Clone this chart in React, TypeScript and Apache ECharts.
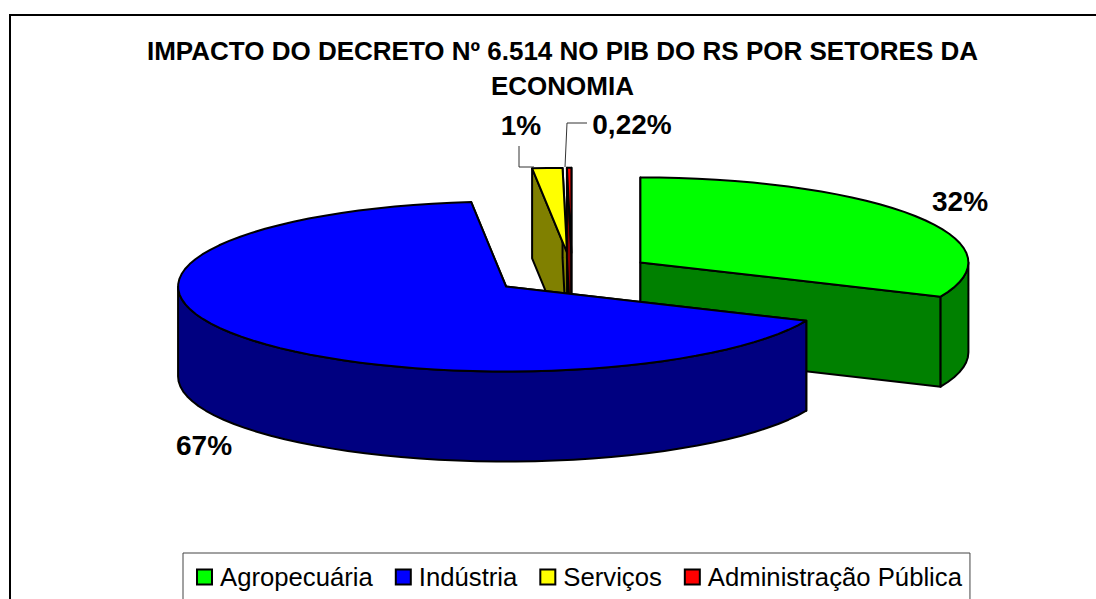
import React, { useEffect, useRef } from "react";
import * as echarts from "echarts";

const titleLines = ["IMPACTO DO DECRETO Nº 6.514 NO PIB DO RS POR SETORES DA", "ECONOMIA"];
const categories = ["Agropecuária", "Indústria", "Serviços", "Administração Pública"];
const sliceValues = [31.6, 66.7, 1.48, 0.22];
const valueLabels = ["32%", "67%", "1%", "0,22%"];
const topColors = ["#00FF00", "#0000FF", "#FFFF00", "#FF0000"];
const wallColors = ["#008000", "#000080", "#808000", "#800000"];
// painting order, back to front
const paintOrder = [0, 2, 3, 1];

const CX = 572, CY = 274, RX = 328, RY = 85, DEPTH = 90, EXPLODE = 0.249;
const LABEL_POS: [number, number][] = [[960, 201], [204, 445], [521, 125], [632, 124]];
const total = sliceValues.reduce((a, b) => a + b, 0);

const STROKE = { stroke: "#000", lineWidth: 2, lineJoin: "round" };

function sliceGeometry(i: number) {
  const before = sliceValues.slice(0, i).reduce((a, b) => a + b, 0);
  const a0 = (before / total) * Math.PI * 2;
  const a1 = ((before + sliceValues[i]) / total) * Math.PI * 2;
  const mid = (a0 + a1) / 2;
  const ox = CX + EXPLODE * RX * Math.sin(mid);
  const oy = CY - EXPLODE * RY * Math.cos(mid);
  const at = (a: number, d = 0): [number, number] => [
    ox + RX * Math.sin(a),
    oy - RY * Math.cos(a) + d,
  ];
  return { a0, a1, ox, oy, at };
}

function arcPoints(at: (a: number, d?: number) => [number, number], from: number, to: number, d = 0) {
  const pts: [number, number][] = [];
  const n = Math.max(2, Math.ceil(Math.abs(to - from) / 0.06));
  for (let k = 0; k <= n; k++) pts.push(at(from + ((to - from) * k) / n, d));
  return pts;
}

function renderSlice(i: number) {
  const { a0, a1, ox, oy, at } = sliceGeometry(i);
  const children: any[] = [];
  const poly = (points: number[][], fill: string) => ({
    type: "polygon",
    shape: { points },
    style: { fill, ...STROKE },
  });
  // radial walls
  for (const a of [a0, a1]) {
    const p = at(a);
    children.push(poly([[ox, oy], p, [p[0], p[1] + DEPTH], [ox, oy + DEPTH]], wallColors[i]));
  }
  // outer wall: the part of the rim that faces the viewer
  const from = Math.max(a0, Math.PI / 2);
  const to = Math.min(a1, Math.PI * 1.5);
  if (to > from) {
    const topEdge = arcPoints(at, from, to);
    const bottomEdge = arcPoints(at, to, from, DEPTH);
    children.push(poly([...topEdge, ...bottomEdge], wallColors[i]));
  }
  // top face
  children.push(poly([[ox, oy], ...arcPoints(at, a0, a1)], topColors[i]));
  return { type: "group", children };
}

function labelElements() {
  const kids: any[] = valueLabels.map((t, i) => ({
    type: "text",
    x: LABEL_POS[i][0],
    y: LABEL_POS[i][1],
    style: {
      text: t,
      fill: "#000",
      font: 'bold 28px "Liberation Sans", Arial, sans-serif',
      align: "center",
      verticalAlign: "middle",
    },
  }));
  const leaders = [
    [[519, 146], [519, 167], [534, 167]],
    [[587, 123], [567, 123], [565, 167]],
  ];
  leaders.forEach((points) =>
    kids.push({
      type: "polyline",
      shape: { points },
      style: { stroke: "#333", lineWidth: 1, fill: "none" },
    })
  );
  return kids;
}

export default function App() {
  const ref = useRef<HTMLDivElement>(null);
  useEffect(() => {
    const chart = echarts.init(ref.current!, undefined, { renderer: "svg" });
    chart.setOption({
      animation: false,
      backgroundColor: "#fff",
      title: {
        text: titleLines.join("\n"),
        left: 557.5,
        textAlign: "center",
        top: 28,
        textStyle: {
          fontFamily: '"Liberation Sans", Arial, sans-serif',
          fontWeight: "bold",
          fontSize: 26,
          lineHeight: 35,
          color: "#000",
        },
      },
      legend: {
        left: 183,
        top: 553,
        orient: "horizontal",
        data: categories,
        icon: "rect",
        itemWidth: 15,
        itemHeight: 15,
        itemGap: 22,
        padding: [11, 8, 24, 13],
        borderColor: "#444",
        borderWidth: 1,
        selectedMode: false,
        textStyle: {
          fontFamily: '"Liberation Sans", Arial, sans-serif',
          fontSize: 25.7,
          color: "#000",
          padding: [0, 0, 0, 3],
        },
        itemStyle: { borderColor: "#000", borderWidth: 2 },
      },
      graphic: [
        {
          type: "rect",
          shape: { x: 10, y: 15, width: 1300, height: 800 },
          style: { fill: "none", stroke: "#000", lineWidth: 2 },
          z: 0,
        },
      ],
      series: [
        ...paintOrder.map((i, order) => ({
          type: "custom",
          name: categories[i],
          coordinateSystem: "none",
          data: [[sliceValues[i]]],
          itemStyle: { color: topColors[i] },
          z: 2 + order,
          renderItem: () => renderSlice(i),
        })),
        {
          type: "custom",
          name: "rótulos",
          coordinateSystem: "none",
          data: [[0]],
          z: 10,
          renderItem: () => ({ type: "group", children: labelElements() }),
        },
      ],
    });
    return () => chart.dispose();
  }, []);
  return (
    <div
      ref={ref}
      style={{ position: "absolute", left: 0, top: 0, width: 1096, height: 599 }}
    />
  );
}
